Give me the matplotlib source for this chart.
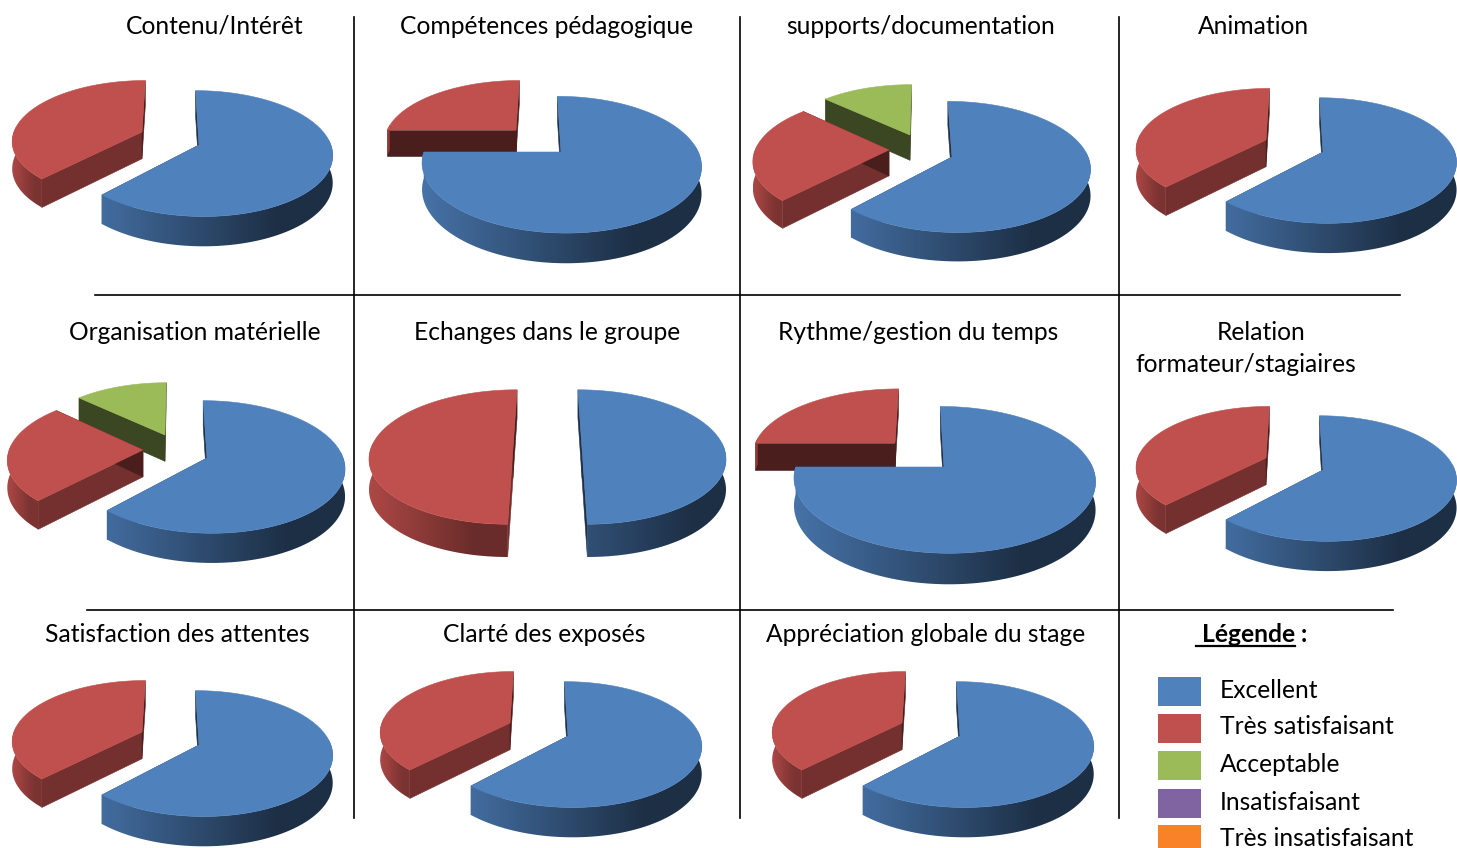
import numpy as np
import matplotlib
matplotlib.use('Agg')
import matplotlib.pyplot as plt
from matplotlib.patches import Rectangle, Polygon

plt.rcParams['font.family'] = ['Lato', 'DejaVu Sans']

# valeurs (%), une valeur par graphique
titres = ['Contenu/Intérêt', 'Compétences pédagogique', 'supports/documentation', 'Animation',
          'Organisation matérielle', 'Echanges dans le groupe', 'Rythme/gestion du temps',
          'Relation\nformateur/stagiaires',
          'Satisfaction des attentes', 'Clarté des exposés', 'Appréciation globale du stage']
excellent = [62, 75, 62, 62, 62, 50, 75, 62, 62, 62, 62]
tres_satisfaisant = [38, 25, 25, 38, 25, 50, 25, 38, 38, 38, 38]
acceptable = [0, 0, 13, 0, 13, 0, 0, 0, 0, 0, 0]

legende = ['Excellent', 'Très satisfaisant', 'Acceptable', 'Insatisfaisant', 'Très insatisfaisant']
couleurs = ['#4f81bd', '#c0504d', '#9bbb59', '#8064a2', '#f98128']

# mise en page : rx, ry, profondeur, perspective, puis le sommet de chaque part (pixels)
pies = [
    (130, 60, 27, 0.134, [(199, 145), (142, 132)]),
    (133, 62, 26, 0.18, [(561, 152), (516, 130)]),
    (135, 63, 26, 0.15, [(952, 157), (889, 150), (910, 135)]),
    (130, 60, 27, 0.134, [(1323, 152), (1266, 140)]),
    (135, 64, 27, 0.134, [(207, 458), (143, 450), (165, 435)]),
    (142, 66, 30, 0.134, [(582, 448), (513, 448)]),
    (144, 67, 27, 0.17, [(944, 467), (895, 443)]),
    (130, 60, 27, 0.134, [(1323, 470), (1266, 458)]),
    (130, 60, 27, 0.134, [(199, 745), (142, 732)]),
    (130, 60, 27, 0.134, [(568, 736), (510, 723)]),
    (130, 60, 27, 0.134, [(960, 736), (902, 723)]),
]
# une position par ligne de titre
pos_titres = [[(215, 25)], [(547, 25)], [(921, 25)], [(1253, 25)],
              [(195, 331)], [(547, 331)], [(918, 331)], [(1261, 331), (1246, 364)],
              [(177, 634)], [(544, 634)], [(926, 634)]]


def shade(col, f):
    return np.array(matplotlib.colors.to_rgb(col)) * f


def draw_slice(ax, cx, cy, rx, ry, d, k, apex, a0, a1, col, left, width, z):
    # sommet en pixels -> coordonnees du disque
    dy = apex[1] - cy
    v0 = dy / (ry + k * dy)
    u0 = (apex[0] - cx) * (1 - k * v0) / rx

    def proj(a):
        t = np.radians(a)
        u = u0 + np.sin(t)
        v = v0 - np.cos(t)
        s = 1 / (1 - k * v)
        return np.column_stack([cx + rx * u * s, cy + ry * v * s]), d * (1 + 0.6 * (s - 1))

    arc, h = proj(np.linspace(a0, a1, max(int(a1 - a0) * 2, 4)))
    s0 = 1 / (1 - k * v0)
    ap = np.array([cx + rx * u0 * s0, cy + ry * v0 * s0])
    h0 = d * (1 + 0.6 * (s0 - 1))

    # parois des deux bords droits
    for e, he in ((arc[0], h[0]), (arc[-1], h[-1])):
        f = 0.38
        if e[0] < ap[0] and e[1] > ap[1]:
            f = 0.6
        ax.add_patch(Polygon([ap, e, e + [0, he], ap + [0, h0]], closed=True, zorder=z,
                             facecolor=shade(col, f), edgecolor=shade(col, f), lw=0.4))

    # paroi exterieure (moitie avant seulement), degrade de gauche a droite
    b0, b1 = max(a0, 85), min(a1, 275)
    if b1 > b0:
        front, hf = proj(np.linspace(b0, b1, max(int(b1 - b0) * 2, 4)))
        bas = front + np.column_stack([np.zeros(len(hf)), hf])
        xl, xr = front[:, 0].min(), front[:, 0].max()
        t0 = np.clip((xl - left) / width, 0, 1)
        t1 = np.clip((xr - left) / width, 0, 1)
        f0 = 0.9 - 0.75 * t0 ** 2
        f1 = 0.37 + 0.3 * (1 - t1)
        fs = np.interp(np.linspace(0, 1, 128), [0, 0.75, 1], [f0, f1, f1])
        grad = np.outer(fs, matplotlib.colors.to_rgb(col))[np.newaxis, :, :]
        im = ax.imshow(grad, extent=[xl, xr, bas[:, 1].max() + 2, front[:, 1].min()],
                       aspect='auto', interpolation='bilinear', zorder=z + 0.1)
        wall = Polygon(np.vstack([front, bas[::-1]]), closed=True,
                       facecolor='none', edgecolor='none')
        ax.add_patch(wall)
        im.set_clip_path(wall)

    # dessus
    ax.add_patch(Polygon(np.vstack([ap, arc]), closed=True, facecolor=col, edgecolor=col,
                         lw=0.4, zorder=z + 0.2))


def draw_pie(ax, values, pie):
    rx, ry, d, k, apexes = pie
    values = [v for v in values if v > 0]
    cx = np.mean([a[0] for a in apexes[:2]])
    cy = np.mean([a[1] for a in apexes[:2]])
    left = min(a[0] for a in apexes) - rx
    width = max(a[0] for a in apexes) + rx - left
    angles = np.cumsum([0] + values) / sum(values) * 360
    parts = [(apexes[i], angles[i], angles[i + 1], couleurs[i]) for i in range(len(values))]
    # de l'arriere vers l'avant
    z = 1
    for apex, a0, a1, col in sorted(parts, key=lambda p: p[0][1]):
        draw_slice(ax, cx, cy, rx, ry, d, k, apex, a0, a1, col, left, width, z)
        z += 1


fig = plt.figure(figsize=(14.57, 8.48), dpi=100)
ax = fig.add_axes([0, 0, 1, 1])
ax.axis('off')

for i in range(len(titres)):
    draw_pie(ax, [excellent[i], tres_satisfaisant[i], acceptable[i]], pies[i])
    lignes = titres[i].split('\n')
    for j in range(len(lignes)):
        ax.text(pos_titres[i][j][0], pos_titres[i][j][1] + 1, lignes[j], fontsize=17.7,
                ha='center', va='center', color='black')

ax.set_xlim(0, 1457)
ax.set_ylim(848, 0)

# traits de separation
for x in [354, 740, 1119]:
    ax.plot([x, x], [17, 818], color='black', lw=1.2, zorder=10)
ax.plot([95, 1400], [295, 295], color='black', lw=1.2, zorder=10)
ax.plot([87, 1393], [610, 610], color='black', lw=1.2, zorder=10)

# legende
ax.text(1202, 635, 'Légende', fontsize=17.7, fontweight='bold', va='center', ha='left')
ax.text(1301, 635, ':', fontsize=17.7, fontweight='bold', va='center', ha='left')
ax.plot([1196, 1295], [646, 646], color='black', lw=1.6)
ytop = [677, 714, 751, 789, 825]
ytxt = [690, 727, 765, 802, 839]
for i in range(len(legende)):
    ax.add_patch(Rectangle((1158, ytop[i]), 43, 29, facecolor=couleurs[i], edgecolor='none'))
    ax.text(1220, ytxt[i], legende[i], fontsize=17.7, va='center', ha='left')

plt.savefig('out.png', dpi=100)
